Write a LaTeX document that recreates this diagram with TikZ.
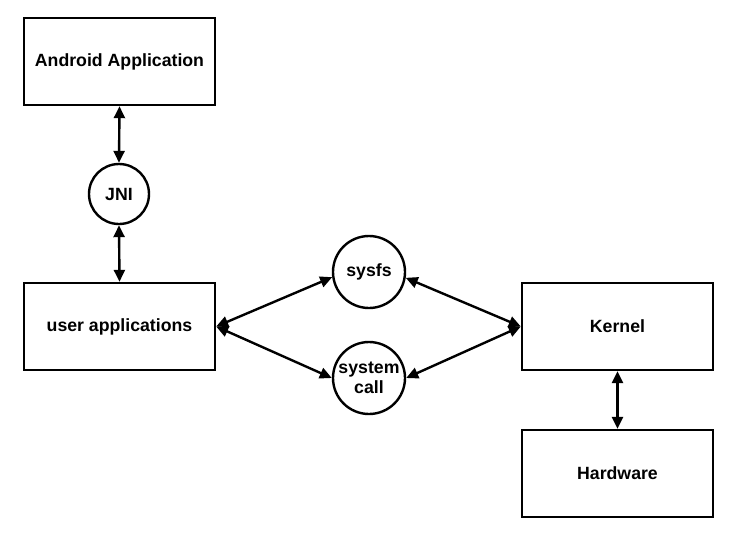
\documentclass[tikz,border=0pt]{standalone}
\usepackage{fontspec}
\setmainfont{Liberation Sans}
\usetikzlibrary{arrows.meta}
\begin{document}
\begin{tikzpicture}[x=1pt,y=-1pt,
  lbl/.style={font=\bfseries\fontsize{17.7}{20.5}\selectfont},
  box/.style={lbl, draw, line width=2.4pt, minimum width=191pt, minimum height=87pt, inner sep=0pt},
  circ/.style={lbl, draw, circle, line width=2.4pt, inner sep=0pt, align=center},
  conn/.style={line width=2.4pt, {Triangle[length=12pt,width=11pt]}-{Triangle[length=12pt,width=11pt]}}]
\useasboundingbox (0,0) rectangle (740,544);
\fill[white] (0,0) rectangle (740,544);
\node[box] (app) at (119.5,61.5) {Android Application};
\node[circ, minimum size=60pt] (jni) at (119,194) {JNI};
\node[box] (user) at (119.5,326.5) {user applications};
\node[circ, minimum size=72pt] (sysfs) at (369,272) {sysfs};
\node[circ, minimum size=72pt] (syscall) at (369,378) {system\\call};
\node[box] (kernel) at (617.5,326.5) {Kernel};
\node[box] (hw) at (617.5,473.5) {Hardware};
\draw[conn] (app.south) -- (jni.north);
\draw[conn] (jni.south) -- (user.north);
\draw[conn] (user.east) -- (sysfs.188);
\draw[conn] (user.east) -- (syscall.west);
\draw[conn] (sysfs.-9) -- (kernel.west);
\draw[conn] (syscall.east) -- (kernel.west);
\draw[conn] (kernel.south) -- (hw.north);
\end{tikzpicture}
\end{document}
